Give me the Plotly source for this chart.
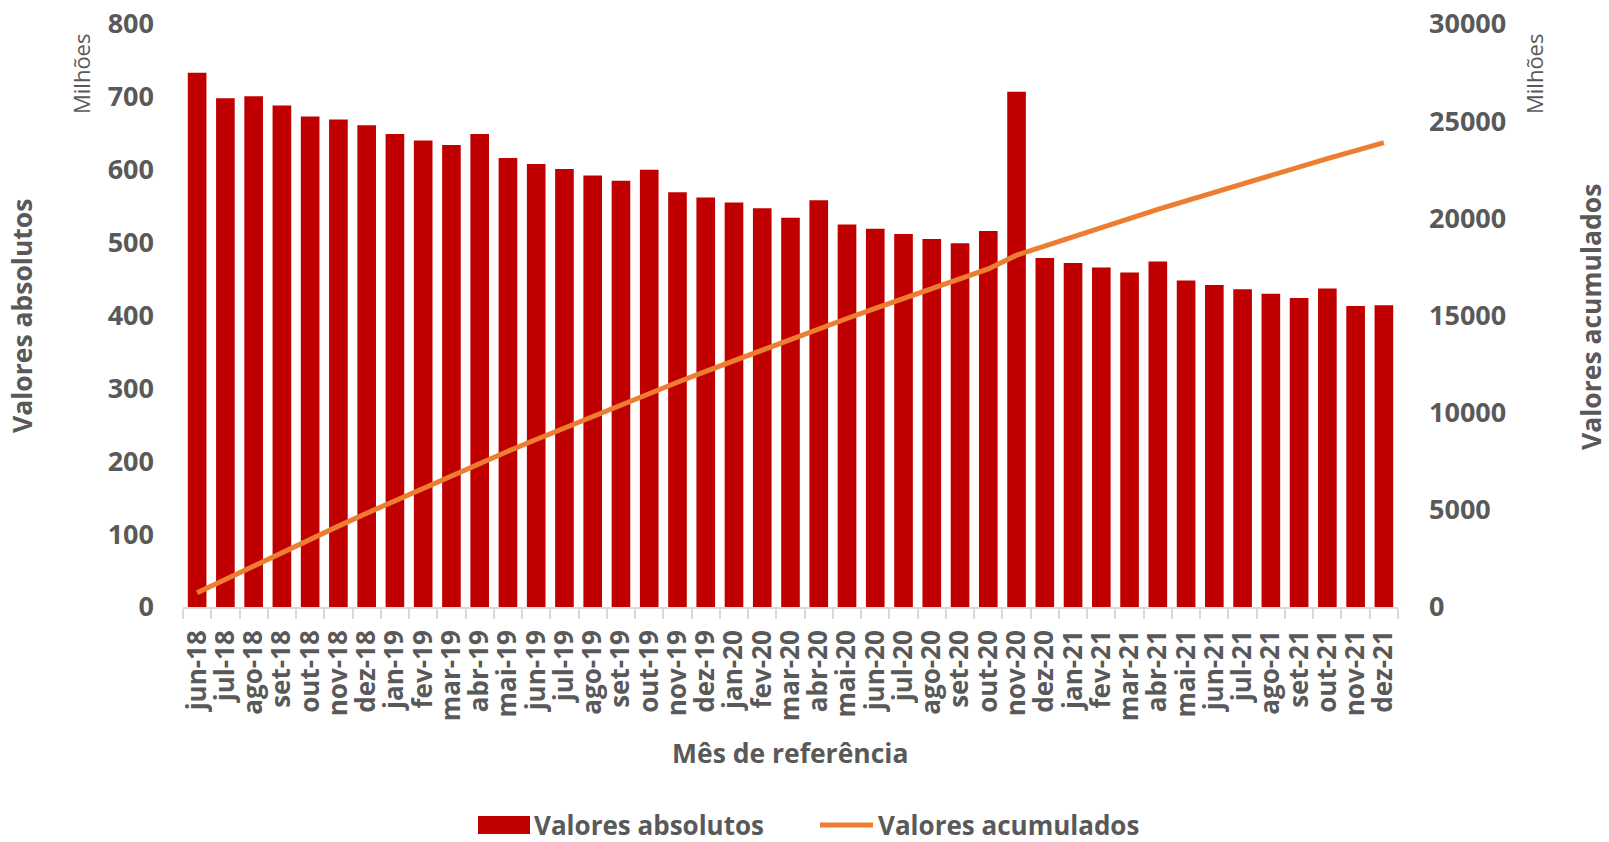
import plotly.graph_objects as go

# ---------------- data ----------------
months = ["jun-18", "jul-18", "ago-18", "set-18", "out-18", "nov-18", "dez-18",
          "jan-19", "fev-19", "mar-19", "abr-19", "mai-19", "jun-19", "jul-19",
          "ago-19", "set-19", "out-19", "nov-19", "dez-19",
          "jan-20", "fev-20", "mar-20", "abr-20", "mai-20", "jun-20", "jul-20",
          "ago-20", "set-20", "out-20", "nov-20", "dez-20",
          "jan-21", "fev-21", "mar-21", "abr-21", "mai-21", "jun-21", "jul-21",
          "ago-21", "set-21", "out-21", "nov-21", "dez-21"]

valores_absolutos = [733, 698, 701, 688, 673, 669, 661, 649, 640, 634, 649, 616,
                     608, 601, 592, 585, 600, 569, 562, 555, 547, 534, 558, 525,
                     519, 512, 505, 499, 516, 707, 479, 472, 466, 459, 474, 448,
                     442, 436, 430, 424, 437, 413, 414]

valores_acumulados = [733, 1431, 2132, 2820, 3493, 4162, 4823, 5472, 6112, 6746,
                      7395, 8011, 8619, 9220, 9812, 10397, 10997, 11566, 12128,
                      12683, 13230, 13764, 14322, 14847, 15366, 15878, 16383,
                      16882, 17398, 18105, 18584, 19056, 19522, 19981, 20455,
                      20903, 21345, 21781, 22211, 22635, 23072, 23485, 23899]

left_ticks = [0, 100, 200, 300, 400, 500, 600, 700, 800]
right_ticks = [0, 5000, 10000, 15000, 20000, 25000, 30000]
right_tick_labels = ["0", "5000", "10000", "15000", "20000", "25000", "30000"]

# ---------------- style ----------------
W, H = 1609, 842
L, R, T, B = 183, 1398, 24, 607
FONT = "Open Sans"
GREY = "#595959"
RED = "#C00000"
ORANGE = "#ED7D31"


def px(x):
    return (x - L) / (R - L)


def py(y):
    return (B - y) / (B - T)


fig = go.Figure()
fig.add_trace(go.Bar(x=months, y=valores_absolutos, name="Valores absolutos",
                     marker=dict(color=RED, line=dict(width=0)),
                     showlegend=False))
fig.add_trace(go.Scatter(x=months, y=valores_acumulados, name="Valores acumulados",
                         mode="lines", yaxis="y2",
                         line=dict(color=ORANGE, width=5, shape="linear"),
                         showlegend=False))

ytickfont = dict(family=FONT, size=27, color=GREY, weight="bold")
xtickfont = dict(family=FONT, size=26, color=GREY, weight="bold")

fig.update_layout(
    width=W, height=H,
    margin=dict(l=L, r=W - R, t=T, b=H - B, pad=0, autoexpand=False),
    paper_bgcolor="white", plot_bgcolor="white",
    bargap=0.34,
    xaxis=dict(type="category", tickangle=-90, tickfont=xtickfont,
               tickmode="array", tickvals=months, ticktext=months,
               showline=True, linecolor="#D9D9D9", linewidth=1.5,
               ticks="outside", tickson="boundaries", ticklen=10,
               tickcolor="#D9D9D9", tickwidth=1.5, showgrid=False,
               ticklabelstandoff=11, automargin=False,
               range=[-0.5, len(months) - 0.5]),
    yaxis=dict(range=[0, 800], tickmode="array", tickvals=left_ticks,
               tickfont=ytickfont, automargin=False,
               showgrid=False, zeroline=False, showline=False,
               ticks="", ticklabelstandoff=28),
    yaxis2=dict(range=[0, 30000], tickmode="array", tickvals=right_ticks,
                ticktext=right_tick_labels, tickfont=ytickfont, automargin=False,
                overlaying="y", side="right", showgrid=False, zeroline=False,
                showline=False, ticks="", ticklabelstandoff=30),
)

ann_font_b = dict(family=FONT, size=26.5, color=GREY, weight="bold")
leg_font = dict(family=FONT, size=26, color=GREY, weight="bold")
ann_font_r = dict(family=FONT, size=22, color=GREY)

LEG_Y = 825
annotations = [
    dict(text="Mês de referência", x=px(790), y=py(753), font=ann_font_b),
    dict(text="Valores absolutos", x=px(22), y=py(316), textangle=-90, font=ann_font_b),
    dict(text="Valores acumulados", x=px(1591), y=py(317), textangle=-90, font=ann_font_b),
    dict(text="Milhões", x=px(81), y=py(74), textangle=-90, font=ann_font_r),
    dict(text="Milhões", x=px(1534), y=py(74), textangle=-90, font=ann_font_r),
    dict(text="Valores absolutos", x=px(532), y=py(LEG_Y), xanchor="left", font=leg_font),
    dict(text="Valores acumulados", x=px(876), y=py(LEG_Y), xanchor="left", font=leg_font),
]
for a in annotations:
    a.update(xref="paper", yref="paper", showarrow=False)
    a.setdefault("xanchor", "center")
    a.setdefault("yanchor", "middle")
fig.update_layout(annotations=annotations)

fig.update_layout(shapes=[
    dict(type="rect", xref="paper", yref="paper", x0=px(478), x1=px(530),
         y0=py(LEG_Y + 9), y1=py(LEG_Y - 9), fillcolor=RED, line=dict(width=0)),
    dict(type="line", xref="paper", yref="paper", x0=px(820), x1=px(873),
         y0=py(LEG_Y), y1=py(LEG_Y), line=dict(color=ORANGE, width=5)),
])

fig.write_html("out.html", config={"displayModeBar": False},
               post_script="document.body.style.margin='0';document.body.style.overflow='hidden';")
